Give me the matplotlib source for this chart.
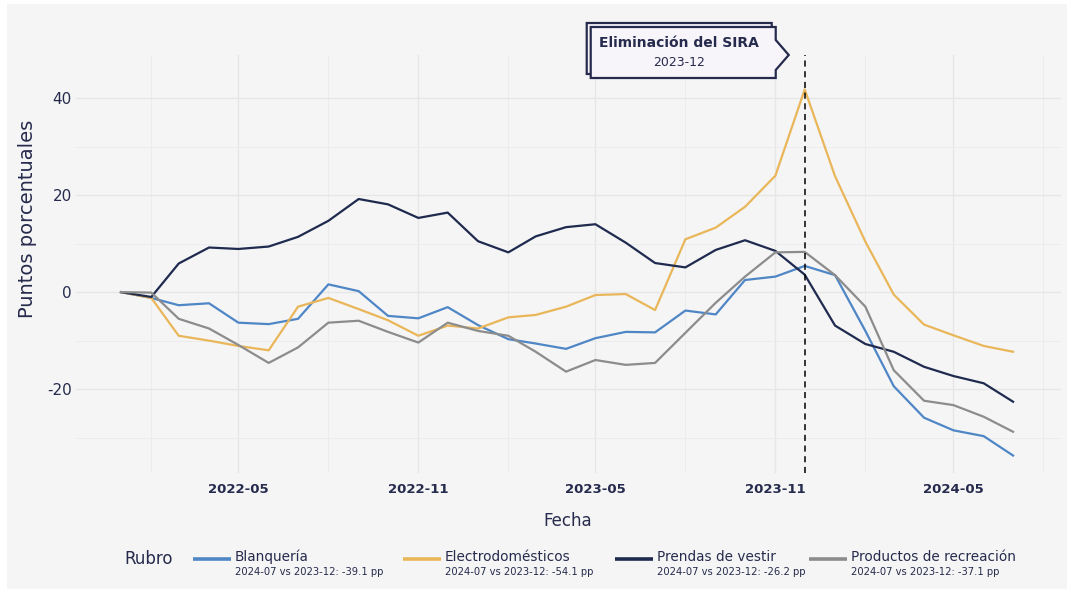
import numpy as np
import pandas as pd
import matplotlib.pyplot as plt
import matplotlib.dates as mdates
from matplotlib.lines import Line2D
from matplotlib.patches import Polygon, Rectangle
from matplotlib.transforms import IdentityTransform

# monthly change in percentage points, 2022-01 .. 2024-07
months = pd.date_range("2022-01-01", "2024-07-01", freq="MS")

blanqueria = [0, -1.2, -2.7, -2.3, -6.3, -6.6, -5.5, 1.6, 0.2, -4.9, -5.4, -3.1,
              -6.8, -9.7, -10.6, -11.7, -9.5, -8.2, -8.3, -3.8, -4.6, 2.5, 3.2,
              5.4, 3.5, -8.0, -19.4, -25.9, -28.5, -29.7, -33.7]
electro = [0, -1.2, -9.0, -10.0, -11.1, -12.0, -3.0, -1.2, -3.5, -5.8, -9.0, -6.9,
           -7.5, -5.2, -4.7, -3.0, -0.6, -0.4, -3.7, 10.9, 13.3, 17.6, 24.0,
           41.8, 23.9, 10.4, -0.5, -6.7, -8.9, -11.1, -12.3]
prendas = [0, -1.0, 5.9, 9.2, 8.9, 9.4, 11.4, 14.7, 19.2, 18.1, 15.3, 16.4,
           10.5, 8.2, 11.5, 13.4, 14.0, 10.2, 6.0, 5.1, 8.7, 10.7, 8.5,
           3.6, -6.9, -10.7, -12.3, -15.4, -17.3, -18.8, -22.6]
recreacion = [0, -0.1, -5.5, -7.5, -10.9, -14.6, -11.4, -6.3, -5.9, -8.2, -10.4, -6.3,
              -8.0, -9.0, -12.3, -16.4, -14.0, -15.0, -14.6, -8.4, -2.2, 3.2, 8.2,
              8.3, 3.5, -3.0, -16.1, -22.4, -23.3, -25.7, -28.8]

rubros = ["Blanquería", "Electrodomésticos", "Prendas de vestir", "Productos de recreación"]
deltas = [-39.1, -54.1, -26.2, -37.1]
colors = ["#4f86c6", "#e9b65a", "#1f2a4f", "#8c8c8c"]
series = [blanqueria, electro, prendas, recreacion]

event = pd.Timestamp("2023-12-01")
event_title = "Eliminación del SIRA"
event_label = "2023-12"

text_col = "#262b4d"
bg = "#f5f5f5"

plt.rcParams["font.family"] = ["DejaVu Sans"]
plt.rcParams["axes.unicode_minus"] = False

W, H = 1067, 589
fig = plt.figure(figsize=(W / 100, H / 100), dpi=100, facecolor="white")
fig.patches.append(Rectangle((7 / W, 0), 1, 1 - 4 / H, transform=fig.transFigure,
                             facecolor=bg, edgecolor="none", zorder=-10))

ax = fig.add_axes([76 / W, 1 - 473 / H, (1061 - 76) / W, (473 - 55) / H])
ax.set_facecolor(bg)
for s in ax.spines.values():
    s.set_visible(False)

for vals, c in zip(series, colors):
    ax.plot(months, vals, color=c, lw=1.6, zorder=3)

ax.axvline(event, color="black", lw=1.1, ls=(0, (4, 3)), zorder=4)

ax.set_xlim(pd.Timestamp("2021-11-16"), pd.Timestamp("2024-08-19"))
ax.set_ylim(-37.3, 48.9)

ax.xaxis.set_major_locator(mdates.MonthLocator(bymonth=[5, 11]))
ax.xaxis.set_minor_locator(mdates.MonthLocator(bymonth=[2, 8]))
ax.xaxis.set_major_formatter(mdates.DateFormatter("%Y-%m"))
ax.set_yticks([-20, 0, 20, 40])
ax.set_yticks([-30, -10, 10, 30], minor=True)
ax.grid(which="major", color="#e6e6e6", lw=1.0, zorder=0)
ax.grid(which="minor", color="#ececec", lw=0.7, zorder=0)
ax.tick_params(which="both", length=0)
ax.tick_params(axis="x", pad=7, labelsize=9.5, labelcolor=text_col)
ax.tick_params(axis="y", pad=3, labelsize=11, labelcolor=text_col)
for t in ax.get_xticklabels():
    t.set_fontweight("bold")
for t in ax.get_yticklabels():
    t.set_fontweight("medium")

fig.text(568 / W, 1 - 521 / H, "Fecha", ha="center", va="center", fontsize=12, color=text_col)
fig.text(28 / W, 1 - 219 / H, "Puntos porcentuales", ha="center", va="center",
         rotation=90, fontsize=14, color=text_col)

# annotation box (arrow-shaped), anchored to the event line
fig.canvas.draw()
ev = ax.transData.transform((mdates.date2num(event), 0))[0]


def box_pts(dx, dy):
    l, r, tip = ev - 214 + dx, ev - 29 + dx, ev - 16 + dx
    top, bot = H - 27 + dy, H - 78 + dy
    return [(l, top), (r, top), (r, H - 40 + dy), (tip, H - 55 + dy),
            (r, H - 70 + dy), (r, bot), (l, bot)]


for dx, dy, z in [(-4, 4, 5), (0, 0, 6)]:
    fig.patches.append(Polygon(box_pts(dx, dy), closed=True, transform=IdentityTransform(),
                               facecolor="#f7f4fa", edgecolor=text_col, lw=1.6, zorder=z))
cx = ev - 126
fig.text(cx / W, 1 - 43 / H, event_title, ha="center", va="center", fontsize=10,
         fontweight="bold", color=text_col, zorder=7)
fig.text(cx / W, 1 - 62 / H, event_label, ha="center", va="center", fontsize=9,
         color=text_col, zorder=7)

# legend
fig.text(124 / W, 1 - 559 / H, "Rubro", ha="left", va="center", fontsize=12, color=text_col)
leg_x = [193, 403, 615, 809]
for x0, name, d, c in zip(leg_x, rubros, deltas, colors):
    fig.lines.append(Line2D([x0, x0 + 38], [H - 559, H - 559], transform=IdentityTransform(),
                            color=c, lw=2.6, solid_capstyle="butt"))
    fig.text((x0 + 42) / W, 1 - 557 / H, name, ha="left", va="center", fontsize=9.8,
             color=text_col)
    fig.text((x0 + 42) / W, 1 - 572 / H, f"2024-07 vs 2023-12: {d} pp", ha="left",
             va="center", fontsize=7.2, color=text_col)

fig.savefig("out.png", dpi=100, facecolor=fig.get_facecolor())
